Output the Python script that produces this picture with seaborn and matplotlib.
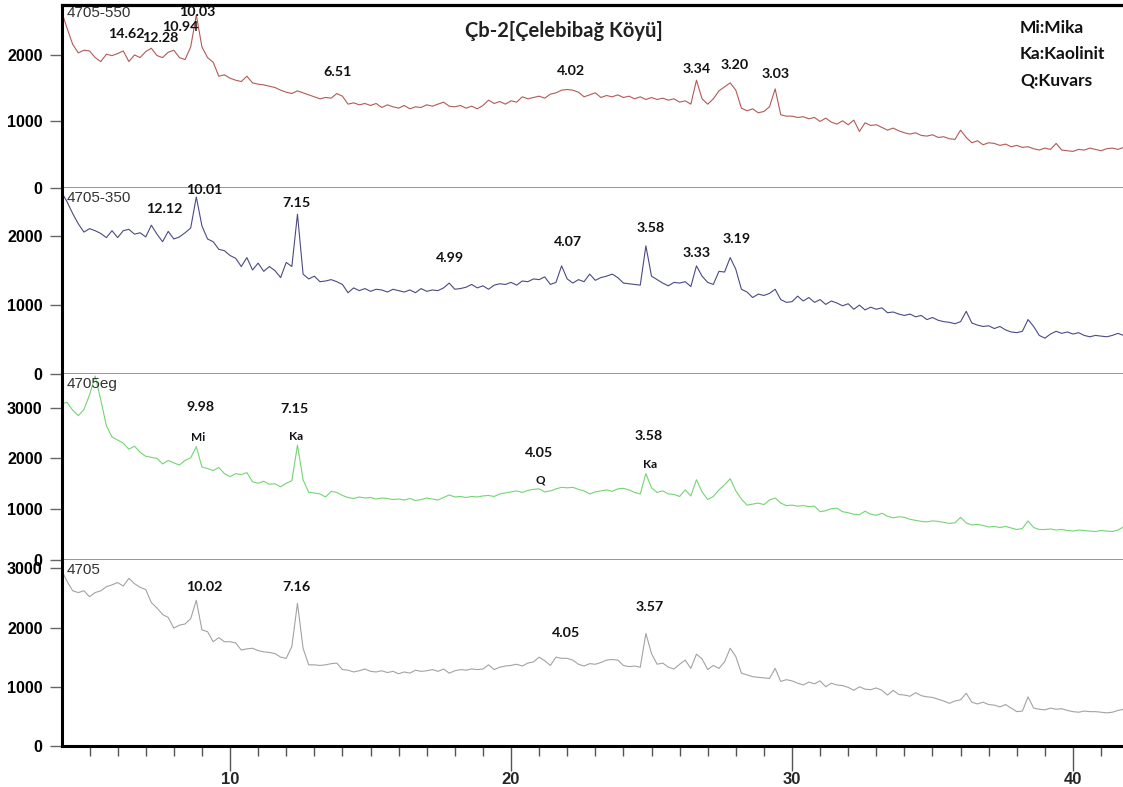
import numpy as np
import pandas as pd
import matplotlib
matplotlib.use("Agg")
import matplotlib.pyplot as plt
from matplotlib.ticker import MultipleLocator
import seaborn as sns

# 2-theta grid (degrees), 0.2 degree steps
two_theta = np.round(np.arange(4.0, 41.81, 0.2), 1)

# Intensities (counts) for each treatment, one row of values per 2 degrees
counts_550 = [
    2660, 2400, 2160, 2030, 2070, 2060, 1960, 1900, 2010, 1990,
    2020, 2060, 1900, 2000, 1960, 2050, 2100, 1990, 1960, 2040,
    2070, 1960, 1930, 2120, 2600, 2120, 1960, 1890, 1680, 1700,
    1650, 1620, 1600, 1680, 1580, 1560, 1550, 1530, 1510, 1470,
    1440, 1420, 1460, 1430, 1400, 1370, 1340, 1360, 1350, 1420,
    1380, 1260, 1280, 1250, 1270, 1240, 1270, 1210, 1250, 1220,
    1200, 1240, 1190, 1220, 1210, 1250, 1230, 1260, 1290, 1230,
    1220, 1240, 1200, 1230, 1190, 1240, 1320, 1270, 1300, 1260,
    1310, 1290, 1370, 1340, 1360, 1380, 1350, 1410, 1430, 1470,
    1480, 1470, 1440, 1370, 1400, 1430, 1360, 1390, 1370, 1400,
    1360, 1380, 1340, 1370, 1330, 1360, 1330, 1350, 1320, 1340,
    1290, 1310, 1260, 1620, 1340, 1260, 1340, 1460, 1520, 1580,
    1470, 1200, 1160, 1190, 1130, 1150, 1220, 1490, 1100, 1080,
    1080, 1060, 1070, 1040, 1060, 1000, 1050, 990, 960, 1010,
    950, 1020, 850, 980, 940, 950, 910, 870, 900, 860,
    830, 810, 830, 790, 780, 800, 760, 770, 740, 730,
    870, 760, 680, 710, 650, 680, 670, 640, 660, 620,
    640, 610, 620, 590, 570, 600, 580, 670, 570, 560,
    550, 580, 570, 600, 580, 560, 590, 600, 580, 610,
]

counts_350 = [
    2640, 2500, 2330, 2180, 2060, 2110, 2080, 2040, 1980, 2080,
    1980, 2080, 2100, 2030, 2050, 1990, 2160, 2030, 1920, 2070,
    1960, 1990, 2050, 2120, 2570, 2150, 1960, 1920, 1810, 1790,
    1720, 1680, 1560, 1690, 1510, 1610, 1490, 1560, 1500, 1400,
    1620, 1560, 2320, 1450, 1380, 1420, 1340, 1350, 1370, 1340,
    1300, 1180, 1250, 1210, 1240, 1200, 1230, 1220, 1190, 1230,
    1210, 1190, 1220, 1180, 1240, 1200, 1220, 1210, 1250, 1320,
    1230, 1240, 1260, 1300, 1250, 1280, 1230, 1290, 1310, 1300,
    1330, 1290, 1350, 1340, 1380, 1370, 1410, 1300, 1330, 1570,
    1380, 1320, 1370, 1340, 1450, 1360, 1400, 1420, 1450, 1400,
    1320, 1310, 1300, 1290, 1860, 1420, 1370, 1320, 1280, 1330,
    1320, 1340, 1270, 1570, 1420, 1330, 1300, 1490, 1480, 1690,
    1520, 1230, 1190, 1110, 1160, 1140, 1170, 1230, 1080, 1040,
    1050, 1130, 1060, 1110, 1040, 1080, 1010, 1060, 1030, 990,
    1020, 940, 1000, 930, 970, 940, 960, 890, 900, 870,
    850, 870, 830, 850, 790, 820, 780, 760, 750, 730,
    760, 910, 740, 710, 690, 700, 660, 690, 640, 610,
    600, 620, 790, 690, 560, 520, 580, 620, 590, 610,
    580, 600, 560, 540, 560, 550, 540, 560, 590, 560,
]

counts_eg = [
    3080, 3100, 2950, 2840, 2960, 3250, 3620, 3150, 2640, 2420,
    2360, 2300, 2180, 2240, 2120, 2040, 2020, 2000, 1890, 1960,
    1910, 1870, 1960, 2010, 2230, 1830, 1800, 1760, 1820, 1700,
    1640, 1700, 1680, 1720, 1540, 1510, 1550, 1490, 1500, 1440,
    1510, 1560, 2260, 1580, 1330, 1320, 1300, 1240, 1350, 1330,
    1270, 1230, 1210, 1240, 1220, 1230, 1200, 1220, 1210, 1190,
    1200, 1180, 1210, 1170, 1190, 1220, 1200, 1180, 1230, 1280,
    1240, 1250, 1230, 1250, 1240, 1260, 1270, 1250, 1300, 1320,
    1340, 1360, 1330, 1370, 1390, 1400, 1340, 1360, 1400, 1430,
    1420, 1430, 1390, 1360, 1300, 1340, 1360, 1380, 1350, 1400,
    1410, 1380, 1330, 1300, 1700, 1420, 1330, 1360, 1300, 1290,
    1250, 1380, 1260, 1580, 1340, 1190, 1250, 1380, 1480, 1600,
    1360, 1200, 1080, 1100, 1120, 1090, 1180, 1220, 1120, 1070,
    1080, 1060, 1070, 1050, 1060, 950, 970, 1010, 1020, 950,
    930, 900, 890, 960, 900, 880, 920, 860, 830, 850,
    840, 800, 780, 760, 750, 770, 760, 740, 720, 730,
    840, 730, 690, 700, 680, 650, 660, 640, 660, 630,
    600, 620, 770, 640, 600, 600, 610, 590, 600, 580,
    570, 590, 580, 570, 560, 580, 570, 560, 590, 650,
]

counts_raw = [
    2970, 2780, 2620, 2590, 2620, 2520, 2590, 2620, 2690, 2720,
    2760, 2700, 2830, 2740, 2680, 2640, 2420, 2330, 2220, 2170,
    1990, 2040, 2060, 2150, 2460, 1960, 1930, 1760, 1830, 1760,
    1760, 1740, 1620, 1640, 1650, 1610, 1590, 1580, 1560, 1500,
    1480, 1680, 2410, 1650, 1370, 1370, 1360, 1370, 1390, 1400,
    1290, 1280, 1250, 1270, 1300, 1260, 1250, 1270, 1240, 1260,
    1220, 1250, 1230, 1280, 1260, 1270, 1290, 1260, 1300, 1230,
    1270, 1290, 1280, 1300, 1290, 1300, 1370, 1290, 1330, 1350,
    1360, 1380, 1350, 1400, 1420, 1500, 1440, 1360, 1500, 1480,
    1480, 1450, 1380, 1350, 1390, 1380, 1410, 1450, 1460, 1450,
    1360, 1340, 1350, 1330, 1900, 1560, 1380, 1400, 1330, 1300,
    1380, 1450, 1310, 1550, 1470, 1290, 1360, 1310, 1420, 1650,
    1510, 1230, 1200, 1170, 1160, 1150, 1140, 1310, 1090, 1120,
    1100, 1060, 1030, 1080, 1050, 1100, 1000, 1060, 1030, 1020,
    990, 940, 1000, 960, 950, 980, 940, 860, 940, 870,
    860, 840, 900, 850, 830, 820, 790, 760, 720, 760,
    780, 890, 740, 710, 740, 700, 690, 660, 700, 640,
    580, 590, 830, 640, 620, 610, 640, 620, 630, 600,
    580, 570, 590, 580, 580, 570, 560, 570, 600, 620,
]

sample_names = ["4705-550", "4705-350", "4705eg", "4705"]
y_tick_values = [[0, 1000, 2000], [0, 1000, 2000],
                 [0, 1000, 2000, 3000], [0, 1000, 2000, 3000]]
x_tick_values = [10, 20, 30, 40]

title_text = "Çb-2[Çelebibağ Köyü]"
legend_lines = ["Mi:Mika", "Ka:Kaolinit", "Q:Kuvars"]

# d-spacing labels (Å) and mineral abbreviations for each pattern
d_labels = [
    ["14.62", "12.28", "10.94", "10.03", "6.51", "4.02", "3.34", "3.20", "3.03"],
    ["12.12", "10.01", "7.15", "4.99", "4.07", "3.58", "3.33", "3.19"],
    ["9.98", "7.15", "4.05", "3.58"],
    ["10.02", "7.16", "4.05", "3.57"],
]
mineral_labels = ["Mi", "Ka", "Q", "Ka"]

df = pd.DataFrame({
    "two_theta": two_theta,
    "4705-550": counts_550,
    "4705-350": counts_350,
    "4705eg": counts_eg,
    "4705": counts_raw,
})

# ---- styling ----
sns.set_theme(style="white")
plt.rcParams["font.family"] = ["Liberation Sans", "DejaVu Sans"]

line_colors = ["#b35a56", "#4a4a86", "#72d672", "#a3a3a3"]
y_tops = [2750, 2700, 3660, 3140]
left, right = 62 / 1123, 1.0
panel_px = [(5, 188), (188, 374), (374, 560), (560, 746)]

# label anchor positions (2-theta, counts) for each d-spacing label
d_label_pos = [
    [(6.30, 2316), (7.50, 2256), (8.24, 2420), (8.83, 2647), (13.84, 1744),
     (22.14, 1760), (26.62, 1790), (27.97, 1850), (29.40, 1714)],
    [(7.65, 2394), (9.07, 2670), (12.35, 2480), (17.83, 1690), (22.03, 1910),
     (24.98, 2120), (26.62, 1750), (28.04, 1960)],
    [(8.93, 3010), (12.31, 2970), (21.00, 2100), (24.88, 2435)],
    [(9.07, 2680), (12.35, 2680), (21.96, 1905), (24.95, 2345)],
]
mineral_pos = [(8.86, 2415), (12.35, 2435), (21.04, 1565), (24.95, 1880)]

bold_face = ["Lato", "DejaVu Sans"]

fig = plt.figure(figsize=(11.23, 7.87), dpi=100)
axes = []
for i, (name, color) in enumerate(zip(sample_names, line_colors)):
    top_px, bot_px = panel_px[i]
    rect = [left, 1 - bot_px / 787, right - left, (bot_px - top_px) / 787]
    ax = fig.add_axes(rect)
    sns.lineplot(data=df, x="two_theta", y=name, ax=ax, color=color,
                 linewidth=0.8, legend=False)
    ax.set_xlim(4.02, 41.78)
    ax.set_ylim(0, y_tops[i])
    ax.set_xlabel("")
    ax.set_ylabel("")
    ax.grid(False)

    # spines
    ax.spines["right"].set_visible(False)
    ax.spines["left"].set_color("black")
    ax.spines["left"].set_linewidth(2.2)
    if i == 0:
        ax.spines["top"].set_color("black")
        ax.spines["top"].set_linewidth(2.3)
    else:
        ax.spines["top"].set_visible(False)
    if i == 3:
        ax.spines["bottom"].set_color("black")
        ax.spines["bottom"].set_linewidth(2.2)
    else:
        ax.spines["bottom"].set_color("#7a7a7a")
        ax.spines["bottom"].set_linewidth(1.1)

    # y axis ticks
    ticks = y_tick_values[i]
    ax.set_yticks(ticks)
    ax.set_yticklabels([str(t) for t in ticks], fontweight="bold",
                       fontsize=11.5, color="black")
    ax.tick_params(axis="y", direction="out", length=9, width=1.0,
                   color="#666666", pad=5, left=True)

    # x axis ticks only on the bottom panel
    if i == 3:
        ax.xaxis.set_major_locator(MultipleLocator(10))
        ax.xaxis.set_minor_locator(MultipleLocator(1))
        ax.set_xticks(x_tick_values)
        ax.set_xticklabels([str(t) for t in x_tick_values],
                           fontweight="bold", fontsize=12)
        ax.tick_params(axis="x", which="major", direction="out", length=18,
                       width=1.0, color="#555555", pad=1, bottom=True)
        ax.tick_params(axis="x", which="minor", direction="out", length=7,
                       width=1.0, color="#555555", bottom=True)
    else:
        ax.set_xticks([])
        ax.tick_params(axis="x", which="both", bottom=False, labelbottom=False)

    # sample name in the top-left corner
    ax.annotate(name, xy=(0, 1), xycoords="axes fraction",
                xytext=(3, -1 if i == 0 else -2), textcoords="offset points",
                ha="left", va="top", fontsize=11, color="#333333")

    # d-spacing labels
    for text, (lx, ly) in zip(d_labels[i], d_label_pos[i]):
        ax.text(lx, ly, text, ha="center", va="center", fontsize=10.3,
                fontweight="bold", family=bold_face, color="#111111",
                clip_on=False)
    axes.append(ax)

# mineral abbreviations on the glycolated pattern
for text, (mx, my) in zip(mineral_labels, mineral_pos):
    axes[2].text(mx, my, text, ha="center", va="center", fontsize=8.5,
                 fontweight="bold", family=bold_face, color="#111111")

# title and legend text
fig.text(564 / 1123, 1 - 31 / 787, title_text, ha="center", va="center",
         fontsize=14.5, fontweight="bold", family=bold_face, color="#222222")
for k, line in enumerate(legend_lines):
    fig.text(1020 / 1123, 1 - (28 + 26 * k) / 787, line, ha="left",
             va="center", fontsize=12.5, fontweight="bold", family=bold_face,
             color="#111111")

fig.savefig("out.png", dpi=100)
